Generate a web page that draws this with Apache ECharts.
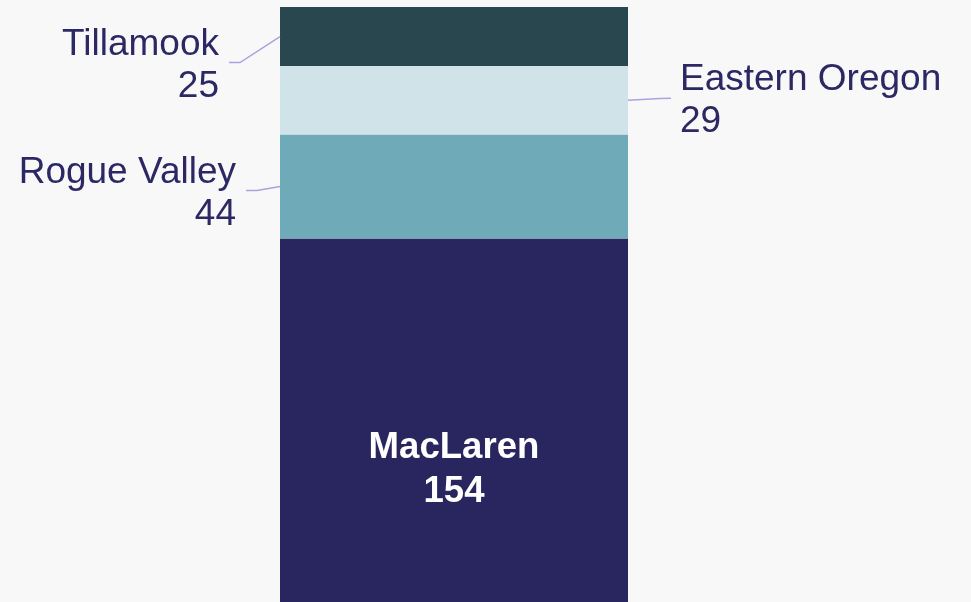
<!DOCTYPE html>
<html>
<head>
<meta charset="utf-8">
<script src="https://cdn.jsdelivr.net/npm/echarts@6/dist/echarts.min.js"></script>
<style>
html,body{margin:0;padding:0;background:#f8f8f8;}
#chart{width:971px;height:602px;}
</style>
</head>
<body>
<div id="chart"></div>
<script>
// ---- data ----
const categories = ['Total'];
const seriesNames = ['MacLaren', 'Rogue Valley', 'Eastern Oregon', 'Tillamook'];
const macLarenValues = [154];
const rogueValleyValues = [44];
const easternOregonValues = [29];
const tillamookValues = [25];
const seriesValues = [macLarenValues, rogueValleyValues, easternOregonValues, tillamookValues];

// ---- styling ----
const seriesColors = ['#29265f', '#6faab8', '#cfe3e8', '#29474f'];
const textColor = '#2b2864';
const guideColor = '#a9a3e0';
const FONT = 'Arial';
// label placement: side, horizontal gap from bar edge, vertical shift
const labelPlacement = [
  null,
  { side: 'left', gap: 44, dy: 4 },
  { side: 'right', gap: 52, dy: -2 },
  { side: 'left', gap: 61, dy: 26 }
];
const labelTextShift = 3;

const chart = echarts.init(document.getElementById('chart'));

const series = seriesNames.map((name, i) => {
  const s = {
    name: name,
    type: 'bar',
    stack: 'total',
    barWidth: '100%',
    data: seriesValues[i],
    itemStyle: { color: seriesColors[i] },
    label: {
      show: true,
      formatter: p => p.seriesName + '\n' + p.value,
      fontFamily: FONT,
      fontSize: 37,
      lineHeight: 42,
      color: textColor
    },
    emphasis: { disabled: true }
  };
  if (i === 0) {
    s.label.position = 'inside';
    s.label.offset = [0, 50];
    s.label.color = '#ffffff';
    s.label.fontWeight = 'bold';
    s.label.fontSize = 36.6;
    s.label.lineHeight = 44;
  } else {
    const pl = labelPlacement[i];
    s.label.position = pl.side === 'left' ? 'left' : 'right';
    s.labelLayout = function (params) {
      const r = params.rect;
      const cy = r.y + r.height / 2;
      const ly = cy + pl.dy + labelTextShift;
      const lx = pl.side === 'left' ? r.x - pl.gap : r.x + r.width + pl.gap;
      return { x: lx, y: ly, align: pl.side === 'left' ? 'right' : 'left', verticalAlign: 'middle' };
    };
  }
  return s;
});

chart.setOption({
  backgroundColor: '#f8f8f8',
  animation: false,
  grid: { left: 280, right: 343, top: 7, bottom: 0 },
  xAxis: { type: 'category', data: categories, show: false },
  yAxis: { type: 'value', min: 0, max: 252, show: false },
  series: series
});

// guide lines, positioned from the chart's own scales
function drawGuides() {
  const rect = chart.getModel().getComponent('grid').coordinateSystem.getRect();
  const elements = [];
  let base = 0;
  seriesValues.forEach((vals, i) => {
    const v = vals[0];
    const mid = base + v / 2;
    base += v;
    const pl = labelPlacement[i];
    if (!pl) return;
    const cy = chart.convertToPixel({ yAxisIndex: 0 }, mid);
    const ly = cy + pl.dy;
    let pts;
    if (pl.side === 'left') {
      const ex = rect.x;
      const lx = ex - pl.gap;
      pts = [[ex, cy], [lx + 21, ly], [lx + 10, ly]];
    } else {
      const ex = rect.x + rect.width;
      const lx = ex + pl.gap;
      pts = [[ex, cy], [lx - 20, ly + 0.3], [lx - 9, ly]];
    }
    elements.push({
      type: 'polyline',
      shape: { points: pts },
      style: { stroke: guideColor, lineWidth: 1.5, fill: null },
      silent: true,
      z: 10
    });
  });
  chart.setOption({ graphic: { elements: elements } });
}
drawGuides();
</script>
</body>
</html>
